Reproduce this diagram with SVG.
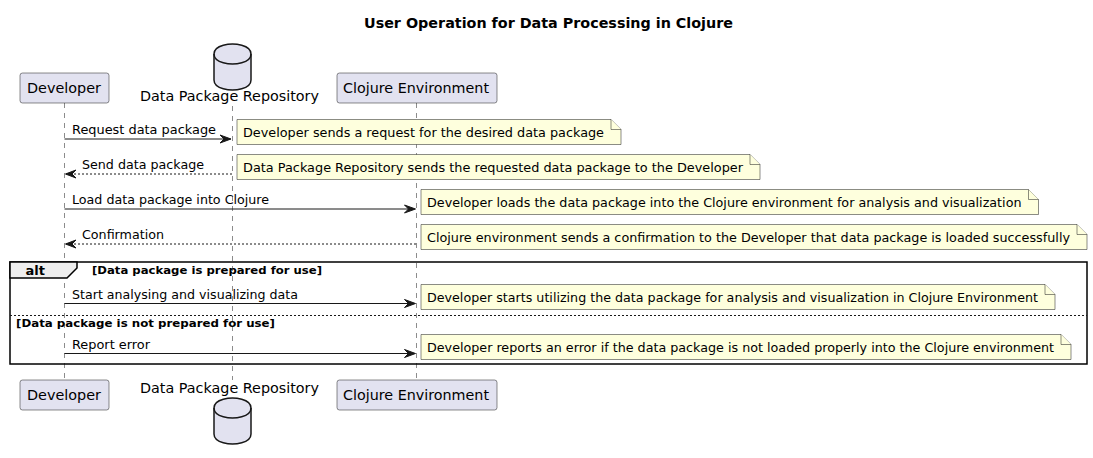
<svg xmlns="http://www.w3.org/2000/svg" width="1093" height="458" viewBox="0 0 1093 458">
<style>
text{font-family:"DejaVu Sans",Verdana,sans-serif;fill:#000}
.title{font-size:14px;font-weight:bold}
.pt{font-size:14px}
.msg{font-size:13px}
.nt{font-size:13px}
.part{fill:#E2E2F0;stroke:#181818;stroke-width:0.5}
.life{stroke:#181818;stroke-width:0.5;stroke-dasharray:5,5;fill:none}
.note{fill:#FEFFDD;stroke:#181818;stroke-width:0.5}
.arr{stroke:#181818;stroke-width:1;fill:none}
.dash{stroke-dasharray:2,2}
.head{fill:#181818;stroke:#181818;stroke-width:1}
.alt{fill:none;stroke:#000;stroke-width:1.5}
.tab{fill:#EEEEEE;stroke:#000;stroke-width:1.5}
.lbl{font-size:13px;font-weight:bold}
.guard{font-size:11px;font-weight:bold}
</style>
<text class="title" x="364" y="27.5" textLength="369" lengthAdjust="spacingAndGlyphs">User Operation for Data Processing in Clojure</text>

<g id="lifelines">
<line class="life" x1="64.5" y1="103" x2="64.5" y2="380"/>
<line class="life" x1="232.5" y1="106" x2="232.5" y2="380"/>
<line class="life" x1="416.5" y1="103" x2="416.5" y2="380"/>
</g>

<g id="developer">
<rect class="part" x="20" y="73" width="89" height="30" rx="2.5"/>
<text class="pt" x="27" y="93" textLength="74" lengthAdjust="spacingAndGlyphs">Developer</text>
<rect class="part" x="20" y="380" width="89" height="30" rx="2.5"/>
<text class="pt" x="27" y="400" textLength="74" lengthAdjust="spacingAndGlyphs">Developer</text>
</g>

<g id="repository">
<path class="part" style="stroke-width:1.5" d="M214,54 C214,44 232.5,44 232.5,44 C232.5,44 251,44 251,54 L251,80 C251,90 232.5,90 232.5,90 C232.5,90 214,90 214,80 Z"/>
<path class="arr" style="stroke-width:1.5" d="M214,54 C214,64 232.5,64 232.5,64 C232.5,64 251,64 251,54"/>
<text class="pt" x="140" y="101" textLength="179" lengthAdjust="spacingAndGlyphs">Data Package Repository</text>
<text class="pt" x="140" y="393" textLength="179" lengthAdjust="spacingAndGlyphs">Data Package Repository</text>
<path class="part" style="stroke-width:1.5" d="M214,408 C214,398 232.5,398 232.5,398 C232.5,398 251,398 251,408 L251,434 C251,444 232.5,444 232.5,444 C232.5,444 214,444 214,434 Z"/>
<path class="arr" style="stroke-width:1.5" d="M214,408 C214,418 232.5,418 232.5,418 C232.5,418 251,418 251,408"/>
</g>

<g id="clojure">
<rect class="part" x="337" y="73" width="160" height="30" rx="2.5"/>
<text class="pt" x="343" y="93" textLength="146" lengthAdjust="spacingAndGlyphs">Clojure Environment</text>
<rect class="part" x="337" y="380" width="160" height="30" rx="2.5"/>
<text class="pt" x="343" y="400" textLength="146" lengthAdjust="spacingAndGlyphs">Clojure Environment</text>
</g>

<g id="alt">
<rect class="alt" x="10" y="262" width="1077" height="102"/>
<path class="tab" d="M10,262 L77,262 L77,268 L67,278 L10,278 Z"/>
<text class="lbl" x="25.5" y="274.5">alt</text>
<text class="guard" x="92" y="273.5" textLength="230" lengthAdjust="spacingAndGlyphs">[Data package is prepared for use]</text>
<line class="arr dash" x1="10" y1="315.5" x2="1087" y2="315.5"/>
<text class="guard" x="16" y="326.5" textLength="259" lengthAdjust="spacingAndGlyphs">[Data package is not prepared for use]</text>
</g>

<g id="connectors">
<line class="arr" x1="64.5" y1="139" x2="230" y2="139"/>
<polygon class="head" points="220,135 231,139 220,143 224,139"/>
<text class="msg" x="72" y="134" textLength="144" lengthAdjust="spacingAndGlyphs">Request data package</text>

<line class="arr dash" x1="66" y1="174" x2="232.5" y2="174"/>
<polygon class="head" points="76,170 65.5,174 76,178 72,174"/>
<text class="msg" x="82" y="169" textLength="122" lengthAdjust="spacingAndGlyphs">Send data package</text>

<line class="arr" x1="64.5" y1="209" x2="414" y2="209"/>
<polygon class="head" points="404.5,205 415.5,209 404.5,213 408.5,209"/>
<text class="msg" x="72" y="204" textLength="197" lengthAdjust="spacingAndGlyphs">Load data package into Clojure</text>

<line class="arr dash" x1="66" y1="244" x2="416.5" y2="244"/>
<polygon class="head" points="76,240 65.5,244 76,248 72,244"/>
<text class="msg" x="82" y="239" textLength="82" lengthAdjust="spacingAndGlyphs">Confirmation</text>

<line class="arr" x1="64.5" y1="303.5" x2="414" y2="303.5"/>
<polygon class="head" points="404.5,299.5 415.5,303.5 404.5,307.5 408.5,303.5"/>
<text class="msg" x="72" y="298.5" textLength="226" lengthAdjust="spacingAndGlyphs">Start analysing and visualizing data</text>

<line class="arr" x1="64.5" y1="353.5" x2="414" y2="353.5"/>
<polygon class="head" points="404.5,349.5 415.5,353.5 404.5,357.5 408.5,353.5"/>
<text class="msg" x="72" y="348.5" textLength="78" lengthAdjust="spacingAndGlyphs">Report error</text>
</g>

<g id="note1">
<path class="note" d="M237,119.5 L611,119.5 L621,129.5 L621,144.5 L237,144.5 Z"/>
<path class="note" d="M611,119.5 L611,129.5 L621,129.5"/>
<text class="nt" x="243" y="137" textLength="361" lengthAdjust="spacingAndGlyphs">Developer sends a request for the desired data package</text>
</g>
<g id="note2">
<path class="note" d="M237,154.5 L750,154.5 L760,164.5 L760,179.5 L237,179.5 Z"/>
<path class="note" d="M750,154.5 L750,164.5 L760,164.5"/>
<text class="nt" x="243" y="172" textLength="500" lengthAdjust="spacingAndGlyphs">Data Package Repository sends the requested data package to the Developer</text>
</g>
<g id="note3">
<path class="note" d="M421,189.5 L1028.5,189.5 L1038.5,199.5 L1038.5,214.5 L421,214.5 Z"/>
<path class="note" d="M1028.5,189.5 L1028.5,199.5 L1038.5,199.5"/>
<text class="nt" x="427" y="207" textLength="594.5" lengthAdjust="spacingAndGlyphs">Developer loads the data package into the Clojure environment for analysis and visualization</text>
</g>
<g id="note4">
<path class="note" d="M421,224.5 L1077,224.5 L1087,234.5 L1087,249.5 L421,249.5 Z"/>
<path class="note" d="M1077,224.5 L1077,234.5 L1087,234.5"/>
<text class="nt" x="427" y="242" textLength="643" lengthAdjust="spacingAndGlyphs">Clojure environment sends a confirmation to the Developer that data package is loaded successfully</text>
</g>
<g id="note5">
<path class="note" d="M421,284.5 L1045,284.5 L1055,294.5 L1055,309.5 L421,309.5 Z"/>
<path class="note" d="M1045,284.5 L1045,294.5 L1055,294.5"/>
<text class="nt" x="427" y="302" textLength="611" lengthAdjust="spacingAndGlyphs">Developer starts utilizing the data package for analysis and visualization in Clojure Environment</text>
</g>
<g id="note6">
<path class="note" d="M421,334.5 L1061,334.5 L1071,344.5 L1071,359.5 L421,359.5 Z"/>
<path class="note" d="M1061,334.5 L1061,344.5 L1071,344.5"/>
<text class="nt" x="427" y="352" textLength="627" lengthAdjust="spacingAndGlyphs">Developer reports an error if the data package is not loaded properly into the Clojure environment</text>
</g>
</svg>
